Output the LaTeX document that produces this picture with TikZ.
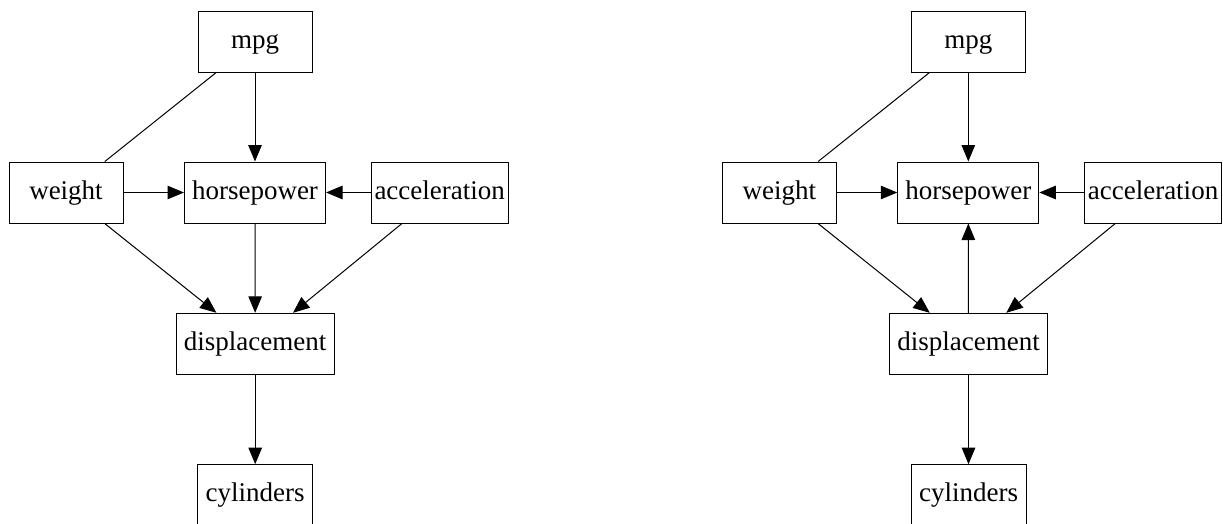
\documentclass[tikz,border=0pt]{standalone}
\usepackage{fontspec}
\setmainfont{Liberation Serif}
\newfontfamily\tnrfont{Liberation Serif}
\usetikzlibrary{arrows.meta}
\begin{document}
\begin{tikzpicture}[x=1pt,y=-1pt,
  box/.style={draw, line width=1pt, minimum height=61pt, inner sep=0pt,
    text height=18pt, text depth=5pt, font=\tnrfont\fontsize{27}{30}\selectfont},
  arr/.style={line width=1pt, -{Triangle[length=16.5pt,width=13.5pt]}},
  link/.style={line width=1pt}]
\useasboundingbox (0,0) rectangle (1223,523);
% left graph
\node[box, minimum width=114pt] (mpgA) at (255,41.5) {mpg};
\node[box, minimum width=114pt] (wA) at (66,192.5) {weight};
\node[box, minimum width=141pt] (hA) at (255,192.5) {horsepower};
\node[box, minimum width=137pt] (aA) at (439.7,192.5) {acceleration};
\node[box, minimum width=158pt] (dA) at (255.2,343.8) {displacement};
\node[box, minimum width=115pt] (cA) at (255.2,495.2) {cylinders};
\draw[link] (mpgA) -- (wA);
\draw[arr] (mpgA) -- (hA);
\draw[arr] (wA) -- (hA);
\draw[arr] (aA) -- (hA);
\draw[arr] (wA) -- (dA);
\draw[arr] (hA) -- (dA);
\draw[arr] (aA) -- (dA);
\draw[arr] (dA) -- (cA);
% right graph
\begin{scope}[xshift=713.3pt]
\node[box, minimum width=114pt] (mpgB) at (255,41.5) {mpg};
\node[box, minimum width=114pt] (wB) at (66,192.5) {weight};
\node[box, minimum width=141pt] (hB) at (255,192.5) {horsepower};
\node[box, minimum width=137pt] (aB) at (439.7,192.5) {acceleration};
\node[box, minimum width=158pt] (dB) at (255.2,343.8) {displacement};
\node[box, minimum width=115pt] (cB) at (255.2,495.2) {cylinders};
\draw[link] (mpgB) -- (wB);
\draw[arr] (mpgB) -- (hB);
\draw[arr] (wB) -- (hB);
\draw[arr] (aB) -- (hB);
\draw[arr] (wB) -- (dB);
\draw[arr] (dB) -- (hB);
\draw[arr] (aB) -- (dB);
\draw[arr] (dB) -- (cB);
\end{scope}
\end{tikzpicture}
\end{document}
